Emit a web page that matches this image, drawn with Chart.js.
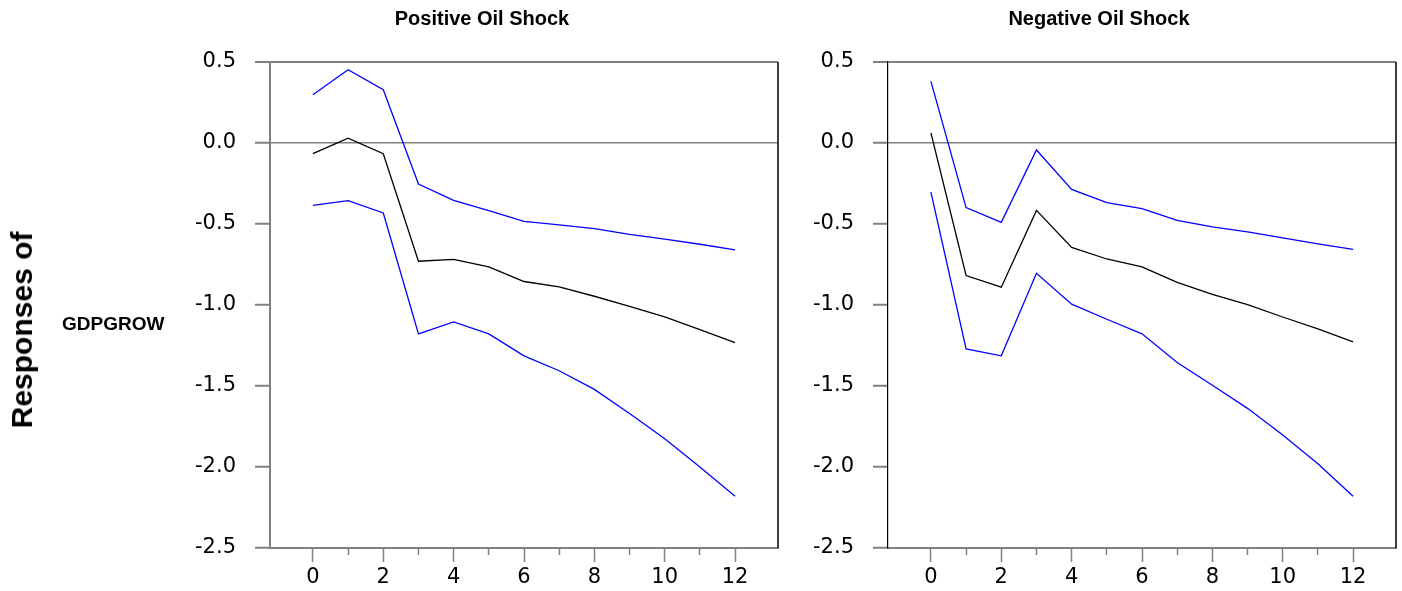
<!DOCTYPE html>
<html>
<head>
<meta charset="utf-8">
<script src="https://cdn.jsdelivr.net/npm/chart.js@4.4.1/dist/chart.umd.min.js"></script>
<style>
	body { margin: 0; background: #fff; width: 1402px; height: 591px; position: relative; overflow: hidden; font-family: "Liberation Sans", Arial, sans-serif; color: #000; }
	.panel { position: absolute; top: 0; }
	.txt { position: absolute; font-weight: bold; white-space: nowrap; line-height: 1; }
	.title { font-size: 20px; top: 8px; transform: translateX(-50%); }
</style>
</head>
<body>
<canvas id="posChart" class="panel" style="left:0" width="800" height="591"></canvas>
<canvas id="negChart" class="panel" style="left:800px" width="602" height="591"></canvas>
<div class="txt title" style="left:482px">Positive Oil Shock</div>
<div class="txt title" style="left:1099px">Negative Oil Shock</div>
<div class="txt" style="font-size:30px;left:22px;top:330px;transform:translate(-50%,-50%) rotate(-90deg)">Responses of</div>
<div class="txt" style="font-size:19px;left:62px;top:314px">GDPGROW</div>
<script>
	'use strict';

	var steps = [0, 1, 2, 3, 4, 5, 6, 7, 8, 9, 10, 11, 12];
	var xTickLabels = [0, 2, 4, 6, 8, 10, 12];
	var xMinorTicks = [1, 3, 5, 7, 9, 11];
	var yTickLabels = [-2.5, -2.0, -1.5, -1.0, -0.5, 0.0, 0.5];

	// positive oil shock
	var posMid = [-0.066, 0.03, -0.066, -0.73, -0.718, -0.765, -0.855, -0.888, -0.946, -1.008, -1.074, -1.152, -1.232];
	var posUpper = [0.298, 0.452, 0.329, -0.253, -0.354, -0.418, -0.484, -0.505, -0.529, -0.564, -0.594, -0.625, -0.66];
	var posLower = [-0.385, -0.356, -0.432, -1.178, -1.104, -1.178, -1.314, -1.406, -1.521, -1.67, -1.826, -2.0, -2.18];

	// negative oil shock
	var negMid = [0.063, -0.818, -0.89, -0.416, -0.644, -0.716, -0.765, -0.86, -0.934, -0.997, -1.074, -1.148, -1.228];
	var negUpper = [0.38, -0.399, -0.49, -0.043, -0.286, -0.368, -0.405, -0.477, -0.518, -0.549, -0.586, -0.623, -0.656];
	var negLower = [-0.303, -1.271, -1.314, -0.804, -0.995, -1.088, -1.178, -1.355, -1.495, -1.638, -1.803, -1.98, -2.18];

	var tickFont = {family: '"DejaVu Sans", sans-serif', size: 21};

	var rightBorder = {
		id: 'rightBorder',
		afterDraw: function (chart) {
			var a = chart.chartArea,
				c = chart.ctx;
			c.save();
			c.strokeStyle = '#000';
			c.lineWidth = 1.5;
			c.beginPath();
			c.moveTo(a.right, a.top);
			c.lineTo(a.right, a.bottom);
			c.stroke();
			c.restore();
		}
	};

	function pairs(values) {
		return steps.map(function (s, i) {
			return {x: s, y: values[i]};
		});
	}

	function line(values, color) {
		return {
			data: pairs(values),
			borderColor: color,
			borderWidth: 1.3,
			pointRadius: 0,
			fill: false,
			tension: 0
		};
	}

	function initIrfChart(id, mid, upper, lower, axisWidth, padRight, leftBorderColor) {
		var gray = '#808080';

		return new Chart(document.getElementById(id), {
			type: 'line',
			data: {
				datasets: [line(upper, '#0000ff'), line(mid, '#000000'), line(lower, '#0000ff')]
			},
			plugins: [rightBorder],
			options: {
				responsive: false,
				animation: false,
				layout: {padding: {top: 62, right: padRight, left: 0, bottom: 0}},
				plugins: {legend: {display: false}, tooltip: {enabled: false}},
				scales: {
					x: {
						type: 'linear',
						position: 'bottom',
						min: -1.22,
						max: 13.22,
						afterBuildTicks: function (s) {
							s.ticks = xTickLabels.map(function (v) { return {value: v}; });
						},
						afterFit: function (s) { s.height = 43; },
						grid: {drawOnChartArea: false, tickLength: 14, tickColor: gray, tickWidth: 1.5},
						border: {color: gray, width: 2},
						ticks: {
							autoSkip: false,
							maxRotation: 0,
							padding: 3,
							color: '#000',
							font: tickFont,
							callback: function (v) { return v; }
						}
					},
					xMinor: {
						type: 'linear',
						position: 'bottom',
						weight: -1,
						min: -1.22,
						max: 13.22,
						afterBuildTicks: function (s) {
							s.ticks = xMinorTicks.map(function (v) { return {value: v}; });
						},
						afterFit: function (s) { s.height = 0; },
						grid: {drawOnChartArea: false, tickLength: 7, tickColor: gray, tickWidth: 1.5},
						border: {display: false},
						ticks: {display: false}
					},
					y: {
						type: 'linear',
						position: 'left',
						min: -2.5,
						max: 0.5,
						afterBuildTicks: function (s) {
							s.ticks = yTickLabels.map(function (v) { return {value: v}; });
						},
						afterFit: function (s) { s.width = axisWidth; },
						grid: {
							tickLength: 15,
							tickColor: gray,
							tickWidth: 2,
							color: function (ctx) {
								var v = ctx.tick ? ctx.tick.value : null;
								return (v === 0 || v === 0.5) ? gray : 'rgba(0,0,0,0)';
							},
							lineWidth: function (ctx) {
								return (ctx.tick && ctx.tick.value === 0.5) ? 2 : 1.5;
							}
						},
						border: {color: leftBorderColor, width: leftBorderColor === gray ? 2 : 1.2},
						ticks: {
							padding: 19,
							color: '#000',
							font: tickFont,
							callback: function (v) { return Number(v).toFixed(1); }
						}
					}
				}
			}
		});
	}

	initIrfChart('posChart', posMid, posUpper, posLower, 270, 22, '#808080');
	initIrfChart('negChart', negMid, negUpper, negLower, 88, 6, '#000000');
</script>
</body>
</html>
